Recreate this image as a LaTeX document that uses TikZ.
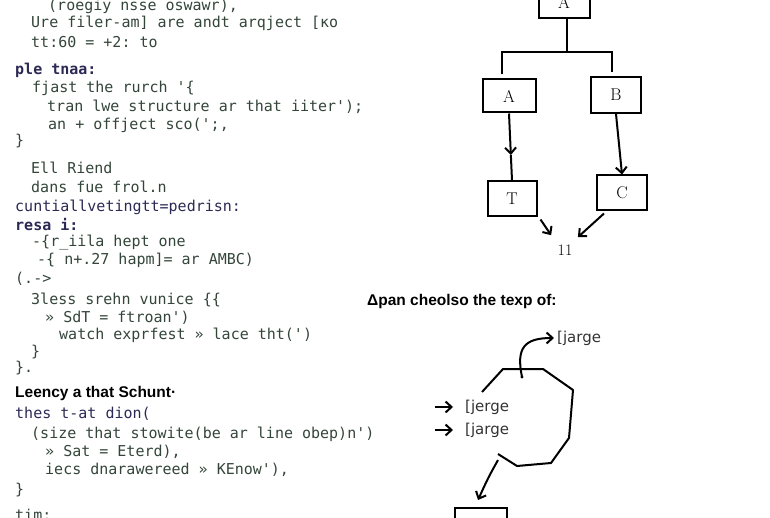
\documentclass[tikz,border=0pt]{standalone}
\usepackage{fontspec}
\setmonofont{DejaVu Sans Mono}
\setsansfont{Liberation Sans}
\newfontfamily\lblfont{DejaVu Sans}
\usetikzlibrary{arrows.meta,calc}
\definecolor{codegreen}{HTML}{34463A}
\definecolor{codenavy}{HTML}{2C2A55}
\tikzset{
  code/.style={anchor=west,inner sep=0pt,text=codegreen,font=\ttfamily\fontsize{15}{17}\selectfont},
  codekw/.style={code,text=codenavy,font=\ttfamily\bfseries\fontsize{15}{17}\selectfont},
  codenv/.style={code,text=codenavy},
  heading/.style={anchor=west,inner sep=0pt,font=\sffamily\bfseries\fontsize{15.5}{17}\selectfont},
  lbl/.style={anchor=west,inner sep=0pt,text=black!80,font=\lblfont\fontsize{15}{17}\selectfont},
  box/.style={draw,line width=2pt,minimum width=50pt,minimum height=34pt,font=\fontsize{17}{19}\selectfont},
  link/.style={line width=2pt},
  arr/.style={link,-{Straight Barb[length=6pt,width=11pt,line width=2pt]}}
}
\begin{document}
\begin{tikzpicture}[x=1pt,y=-1pt]
\useasboundingbox[fill=white](0,0)rectangle(770,518);
\foreach \n/\x/\y/\t in {1/48/6/{(roegiy nsse oswawr),},2/31/23/{Ure filer-am] are andt arqject [ко},
  3/31/42/{tt:60 = +2: to},5/32/88/{fjast the rurch '\{},6/47/107/{tran lwe structure ar that iiter');},
  7/48/125/{an + offject sco(';,},8/15/141/{\}},9/31/168/{Ell Riend},10/31/187/{dans fue frol.n},
  13/32/243/{-\{r\_iila hept one},14/37/260/{-\{ n+.27 hapm]= ar AMBC)},15/15/279/{(.->},
  16/31/300/{3less srehn vunice \{\{},17/45/318/{» SdT = ftroan')},18/59/335/{watch exprfest » lace tht(')},
  19/31/352/{\}},20/15/368/{\}.},23/31/434/{(size that stowite(be ar line obep)n')},
  24/45/452/{» Sat = Eterd),},25/45/470/{iecs dnarawereed » KEnow'),},26/15/490/{\}},27/15/515/{tim:}}
  {\node[code](c\n)at(\x,\y){\t};}
\node[codekw](c4)at(15,70){ple tnaa:};
\node[codenv](c11)at(15,207){cuntiallvetingtt=pedrisn:};
\node[codekw](c12)at(15,225){resa i:};
\node[codenv](c22)at(15,414){thes t-at dion(};
\node[heading](c21)at(15,393){Leency a that Schunt·};
\node[box,minimum width=51pt,minimum height=32pt](ra)at(564,2){A};
\node[box,minimum width=53pt,minimum height=33pt](la)at(509,96){A};
\node[box,minimum height=36pt](rb)at(616,95){B};
\node[box,minimum width=49pt,minimum height=35pt](lt)at(512,199){T};
\node[box,minimum height=35pt](rc)at(622,193){C};
\node[font=\fontsize{16}{18}\selectfont](eleven)at(565,250){11};
\coordinate(fork)at(567,52);
\draw[link](ra.south-|fork)--(fork);
\draw[link,shorten <=4pt,shorten >=4pt]([xshift=-7pt]la.north)|-(fork)-|([xshift=-4pt]rb.north);
\coordinate(lm)at($(la.south)!0.62!(lt.north)$);
\draw[arr](la.south)--(lm);
\draw[link](lm)--(lt.north);
\draw[arr](rb.south)--(rc.north);
\draw[arr]([xshift=3pt,yshift=-2pt]lt.south east)--([xshift=-3pt,yshift=6pt]eleven.north west);
\draw[arr]([xshift=8pt,yshift=-2pt]rc.south west)--([xshift=2pt,yshift=4pt]eleven.north east);
\node[heading](cap)at(367,301){Δpan cheolso the texp of:};
\node[lbl](jtop)at(557,338){[jarge};
\node[lbl](je)at(465,407){[jerge};
\node[lbl](ja)at(465,430){[jarge};
\coordinate(dot)at(522,377);
\fill(dot)circle(1.6);
\draw[arr](dot)..controls(516,348)and(524,338)..([xshift=-3pt]jtop.west);
\draw[link,line join=round](482,392)--(503,369)--(543,369)--(573,390)--(569,438)--(551,463)--(517,466)--(498,454);
\draw[arr]([xshift=-30pt]je.west)--([xshift=-12pt]je.west);
\draw[arr]([xshift=-30pt]ja.west)--([xshift=-12pt]ja.west);
\node[box,minimum width=52pt,minimum height=44pt](bot)at(481,530){};
\coordinate(drop)at(498,460);
\draw[arr](drop)..controls(488,478)..([xshift=-3pt,yshift=7pt]bot.north);
\end{tikzpicture}
\end{document}
